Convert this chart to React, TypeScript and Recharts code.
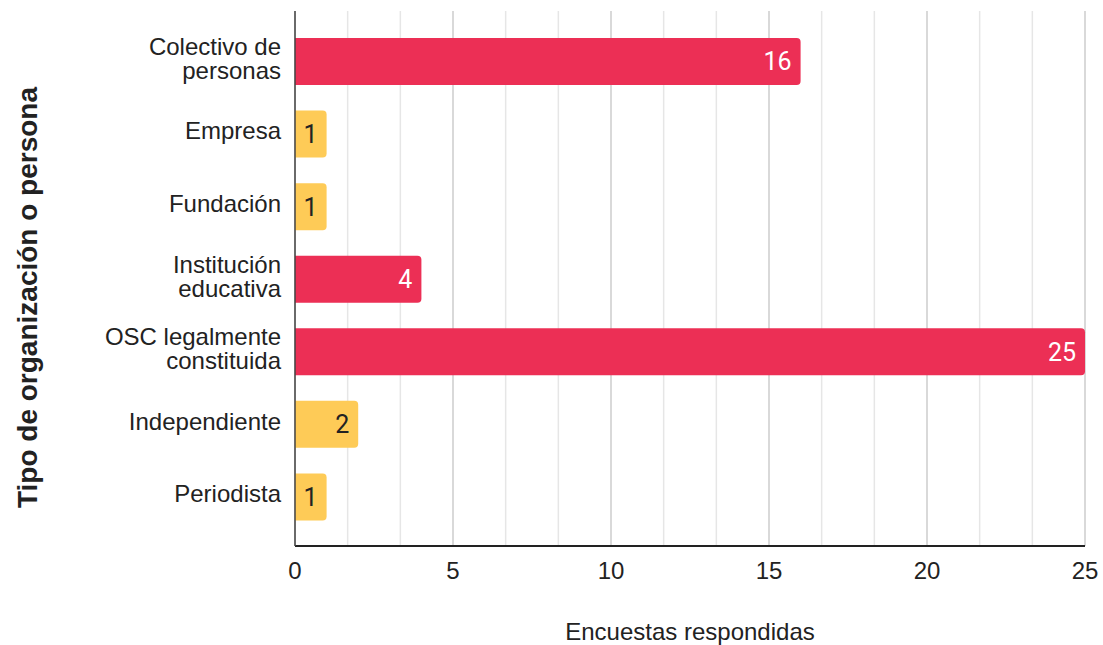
import { BarChart, Bar, XAxis, YAxis, CartesianGrid, Cell, LabelList } from 'recharts';

document.body.style.margin = '0';

const tipos = [
  'Colectivo de\npersonas',
  'Empresa',
  'Fundación',
  'Institución\neducativa',
  'OSC legalmente\nconstituida',
  'Independiente',
  'Periodista',
];
const encuestas = [16, 1, 1, 4, 25, 2, 1];
const ticksX = [0, 5, 10, 15, 20, 25];

const data = tipos.map((tipo, i) => ({ tipo, encuestas: encuestas[i] }));

const ROJO = '#EC2F55';
const AMARILLO = '#FECB57';
const FUENTE = "'Liberation Sans', Arial, sans-serif";
const esDestacado = (v: number) => v >= 3;

// ticks con las lineas menores de la cuadricula (cada 5/3), solo se rotulan los de ticksX
const todosTicks: number[] = [];
for (let i = 0; i <= 15; i++) todosTicks.push((i * 5) / 3);
const esMayor = (v: number) => ticksX.some((t) => Math.abs(t - v) < 1e-6);

const LineaGrid = (props: any) => {
  const { x1, y1, x2, y2, index } = props;
  const mayor = index % 3 === 0;
  return (
    <line
      key={`g-${index}`}
      x1={x1}
      y1={y1}
      x2={x2}
      y2={y2}
      stroke={mayor ? '#cccccc' : '#e6e6e6'}
      strokeWidth={1.5}
    />
  );
};

const TickTipo = ({ x, y, payload }: any) => {
  const lineas = String(payload.value).split('\n');
  return (
    <text x={x - 6} y={y} textAnchor="end" fill="#222" fontSize={24} fontFamily={FUENTE}>
      {lineas.map((l, i) => (
        <tspan key={i} x={x - 6} y={y + 5.5 + (i - (lineas.length - 1) / 2) * 24}>
          {l}
        </tspan>
      ))}
    </text>
  );
};

const Etiqueta = ({ x, y, width, height, value }: any) => (
  <text
    x={x + width - 9}
    y={y + height / 2}
    dy="0.355em"
    textAnchor="end"
    fontSize={25}
    fontFamily="Roboto, sans-serif"
    fill={esDestacado(value) ? '#fff' : '#222'}
  >
    {value}
  </text>
);

const TituloY = ({ viewBox }: any) => {
  const cx = viewBox.x + 27;
  const cy = viewBox.y + viewBox.height / 2 + 19;
  return (
    <text
      x={cx}
      y={cy}
      transform={`rotate(-90 ${cx} ${cy})`}
      textAnchor="middle"
      dy="0.355em"
      fontSize={28}
      fontWeight="bold"
      fill="#222"
      fontFamily={FUENTE}
    >
      Tipo de organización o persona
    </text>
  );
};

export default function App() {
  return (
    <BarChart
      width={1103}
      height={645}
      data={data}
      layout="vertical"
      margin={{ top: 11, right: 18, bottom: 0, left: 0 }}
    >
      <CartesianGrid horizontal={false} vertical={LineaGrid} />
      <XAxis
        type="number"
        domain={[0, 25]}
        ticks={todosTicks}
        interval={0}
        height={99}
        tickSize={0}
        tickMargin={16}
        tickLine={false}
        tickFormatter={(v: number) => (esMayor(v) ? String(Math.round(v)) : '')}
        axisLine={{ stroke: '#222', strokeWidth: 2 }}
        tick={{ fill: '#222', fontSize: 24, fontFamily: FUENTE }}
        label={{
          value: 'Encuestas respondidas',
          position: 'insideBottom',
          offset: 5,
          fill: '#222',
          fontSize: 24,
          fontFamily: FUENTE,
        }}
      />
      <YAxis
        type="category"
        dataKey="tipo"
        width={295}
        padding={{ top: 14, bottom: 13 }}
        tickLine={false}
        axisLine={{ stroke: '#444', strokeWidth: 1.5 }}
        tick={<TickTipo />}
        interval={0}
        label={<TituloY />}
      />
      <Bar dataKey="encuestas" barSize={47} radius={[0, 4, 4, 0]} isAnimationActive={false}>
        {data.map((d, i) => (
          <Cell key={i} fill={esDestacado(d.encuestas) ? ROJO : AMARILLO} />
        ))}
        <LabelList dataKey="encuestas" content={<Etiqueta />} />
      </Bar>
    </BarChart>
  );
}
